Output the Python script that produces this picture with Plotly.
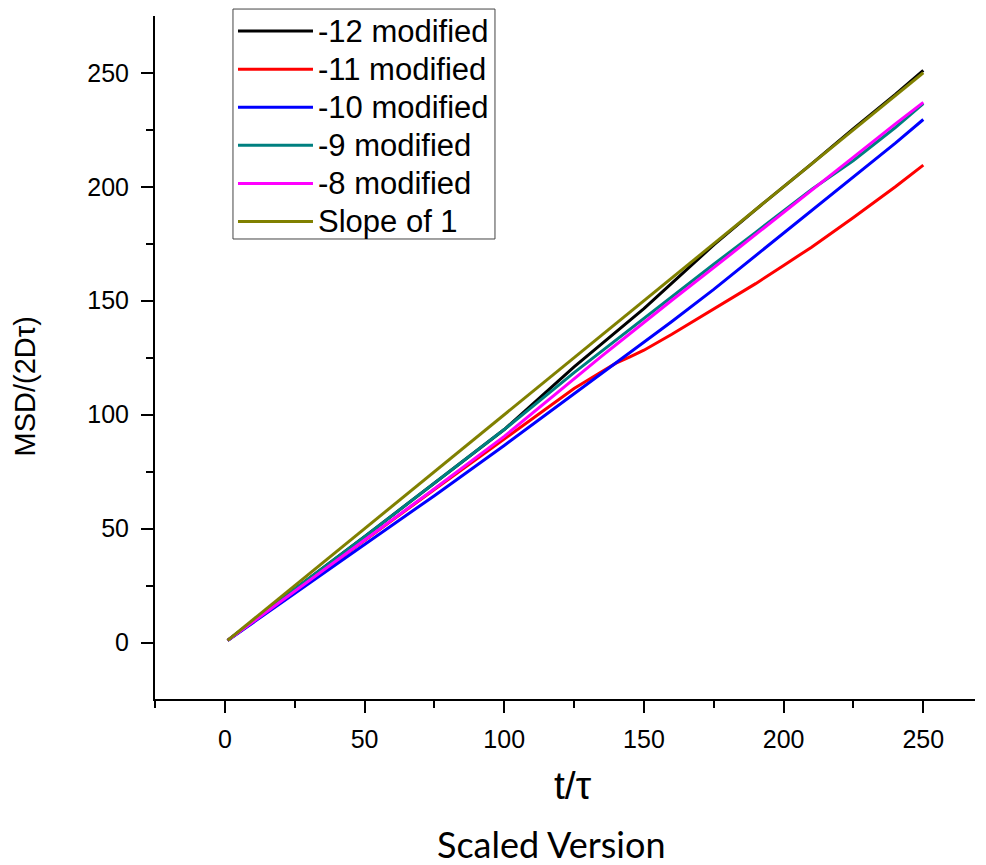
import plotly.graph_objects as go

# time axis samples (t / tau)
t = [1, 25, 50, 75, 100, 125, 135, 140, 145, 150, 160, 175, 190, 200, 210, 225, 240, 250]

# MSD/(2D tau) for each run
msd_m12 = [1, 23.5, 46.5, 70, 93.5, 121, 131.2, 136.3, 141.4, 146.5, 157.7, 174.5, 190, 200, 210, 225.5, 240.5, 251]
msd_m11 = [1, 22.5, 45, 67.2, 89.3, 111.5, 119, 122.6, 125.4, 128.3, 135.3, 146.5, 157.5, 165.5, 173.5, 186.5, 200, 209.5]
msd_m10 = [1, 21.5, 43, 64.5, 86.5, 109, 118, 122.5, 127, 131.5, 140.9, 155, 169.7, 179.5, 189.3, 204, 219.1, 229.5]
msd_m9 = [1, 23.5, 46.5, 70, 93.5, 118.5, 128, 133, 137.7, 142.5, 152, 166, 180, 189.5, 198.8, 211.5, 226, 236.5]
msd_m8 = [1, 22.5, 45, 67.5, 90.5, 116, 125.8, 130.7, 135.6, 140.5, 150.2, 164.5, 179, 188.5, 198.3, 213, 227.6, 237]
slope_one = [1, 25, 50, 75, 100, 125, 135, 140, 145, 150, 160, 175, 190, 200, 210, 225, 240, 250]

series = [
    ("-12 modified", msd_m12, "#000000"),
    ("-11 modified", msd_m11, "#FF0000"),
    ("-10 modified", msd_m10, "#0000FF"),
    ("-9 modified", msd_m9, "#008080"),
    ("-8 modified", msd_m8, "#FF00FF"),
    ("Slope of 1", slope_one, "#808000"),
]

x_ticks = [0, 50, 100, 150, 200, 250]
y_ticks = [0, 50, 100, 150, 200, 250]

FONT = "Arial, Liberation Sans, sans-serif"

fig = go.Figure()
for name, values, color in series:
    fig.add_trace(go.Scatter(
        x=t, y=values, mode="lines",
        name='<span style="font-size:31px">%s</span>' % name,
        line=dict(color=color, width=3),
    ))

axis_common = dict(
    showline=True, linecolor="black", linewidth=2,
    ticks="outside", ticklen=12, tickwidth=2, tickcolor="black",
    showgrid=False, zeroline=False, mirror=False,
    tickfont=dict(family=FONT, size=25, color="black"),
    minor=dict(ticks="outside", ticklen=7, tickwidth=2, tickcolor="black", showgrid=False),
)

fig.update_xaxes(
    range=[-25, 268.5], tickvals=x_ticks, ticklabelstandoff=5,
    minor_dtick=25, minor_tick0=0, **axis_common,
)
fig.update_yaxes(
    range=[-24.7, 274.9], tickvals=y_ticks, ticklabelstandoff=7,
    minor_dtick=25, minor_tick0=0, **axis_common,
)

# legend frame drawn as a paper-anchored rectangle
legend_box = dict(type="rect", xref="paper", yref="paper",
                  x0=0.0951, x1=0.4146, y0=0.6735, y1=1.0102,
                  line=dict(color="#444444", width=1), fillcolor="white", layer="below")

fig.update_layout(
    width=986, height=865,
    margin=dict(l=155, r=11, t=16, b=166, autoexpand=False),
    plot_bgcolor="white", paper_bgcolor="white",
    showlegend=True,
    shapes=[legend_box],
    legend=dict(
        xref="container", yref="container",
        x=0.2363, y=0.9919, xanchor="left", yanchor="top",
        bgcolor="rgba(0,0,0,0)", borderwidth=0,
        font=dict(family=FONT, size=27, color="black"),
        itemwidth=75, tracegroupgap=0,
    ),
    annotations=[
        dict(text="MSD/(2D\u03c4)", xref="paper", yref="paper",
             x=-0.159, y=0.457, xanchor="center", yanchor="middle",
             textangle=-90, showarrow=False,
             font=dict(family=FONT, size=29, color="black")),
        dict(text="t/\u03c4", xref="paper", yref="paper",
             x=0.51, y=-0.127, xanchor="center", yanchor="middle",
             showarrow=False,
             font=dict(family=FONT, size=39, color="black")),
        dict(text="Scaled Version", xref="paper", yref="paper",
             x=0.483, y=-0.213, xanchor="center", yanchor="middle",
             showarrow=False,
             font=dict(family="Lato, Carlito, sans-serif", size=36, color="black")),
    ],
)

fig.write_html("out.html")
